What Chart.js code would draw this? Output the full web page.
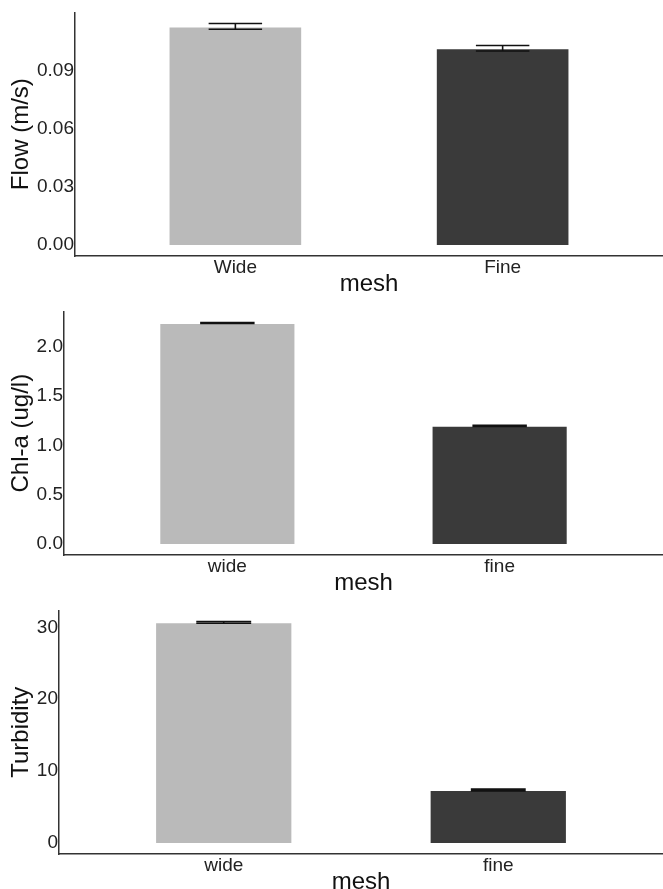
<!DOCTYPE html>
<html>
<head>
<meta charset="utf-8">
<script src="https://cdn.jsdelivr.net/npm/chart.js@4.4.1/dist/chart.umd.min.js"></script>
<style>
  html, body { margin: 0; padding: 0; background: #fff; overflow: hidden; }
  .panel { position: relative; width: 663px; height: 299px; }
  canvas { display: block; }
</style>
</head>
<body>
<div class="panel"><canvas id="flowChart" width="663" height="299"></canvas></div>
<div class="panel"><canvas id="chlChart" width="663" height="299"></canvas></div>
<div class="panel"><canvas id="turbChart" width="663" height="299"></canvas></div>
<script>
  /* Data
  -----------------------------------------------*/
  const meshPositions = [1, 2];

  const flowLabels = ['Wide', 'Fine'];
  const flowValues = [0.1129, 0.1016];
  const flowErrors = [0.0015, 0.0014];
  const flowTicks = [0, 0.03, 0.06, 0.09];
  const flowTickLabels = ['0.00', '0.03', '0.06', '0.09'];

  const chlLabels = ['wide', 'fine'];
  const chlValues = [2.24, 1.197];
  const chlErrors = [0.005, 0.005];
  const chlTicks = [0, 0.5, 1.0, 1.5, 2.0];
  const chlTickLabels = ['0.0', '0.5', '1.0', '1.5', '2.0'];

  const turbLabels = ['wide', 'fine'];
  const turbValues = [30.7, 7.37];
  const turbErrors = [0.12, 0.12];
  const turbTicks = [0, 10, 20, 30];
  const turbTickLabels = ['0', '10', '20', '30'];

  const barColors = ['#bababa', '#3a3a3a'];
  const fontFamily = '"Liberation Sans", Arial, sans-serif';

  /* Error bar plugin
  -----------------------------------------------*/
  const errorBars = {
    id: 'errorBars',
    afterDatasetsDraw(chart, args, opts) {
      const ctx = chart.ctx;
      const xs = chart.scales.x, ys = chart.scales.y;
      ctx.save();
      ctx.strokeStyle = '#111';
      ctx.lineWidth = 1.6;
      opts.errors.forEach(function(err, i) {
        const xv = meshPositions[i];
        const v = opts.values[i];
        const x0 = xs.getPixelForValue(xv - 0.1);
        const x1 = xs.getPixelForValue(xv + 0.1);
        const xc = xs.getPixelForValue(xv);
        const yHi = ys.getPixelForValue(v + err);
        const yLo = ys.getPixelForValue(v - err);
        ctx.beginPath();
        ctx.moveTo(x0, yHi); ctx.lineTo(x1, yHi);
        ctx.moveTo(x0, yLo); ctx.lineTo(x1, yLo);
        ctx.moveTo(xc, yHi); ctx.lineTo(xc, yLo);
        ctx.stroke();
      });
      ctx.restore();
    }
  };

  /* Build one panel
  -----------------------------------------------*/
  function makePanel(id, labels, values, errors, ticks, tickLabels, yTitle, axisLeft) {
    // ggplot style range: 5% expansion on both ends
    let hi = Math.max.apply(null, values.map(function(v, i) { return v + errors[i]; }));
    let lo = 0;
    let pad = (hi - lo) * 0.05;

    let ctx = document.getElementById(id).getContext('2d');
    return new Chart(ctx, {
      type: 'bar',
      data: {
        datasets: [{
          data: meshPositions.map(function(x, i) { return {x: x, y: values[i]}; }),
          backgroundColor: barColors,
          borderColor: 'rgba(255,255,255,0.55)',
          borderWidth: 1,
          categoryPercentage: 1,
          barPercentage: 0.5
        }]
      },
      options: {
        responsive: false,
        animation: false,
        layout: { padding: { top: 10, right: 0, left: 0, bottom: 0 } },
        plugins: {
          legend: { display: false },
          tooltip: { enabled: false },
          errorBars: { values: values, errors: errors }
        },
        scales: {
          x: {
            type: 'linear',
            offset: false,
            min: 0.4,
            max: 2.6,
            grid: { display: false, drawTicks: false, tickLength: 0 },
            border: { display: true, color: '#333', width: 1.5 },
            afterBuildTicks: function(scale) {
              scale.ticks = meshPositions.map(function(v) { return {value: v}; });
            },
            afterFit: function(scale) { scale.height = 43; },
            ticks: {
              color: '#222',
              padding: 0,
              maxRotation: 0,
              autoSkip: false,
              font: { family: fontFamily, size: 19 },
              callback: function(value, index) { return labels[index]; }
            },
            title: {
              display: true,
              text: 'mesh',
              color: '#111',
              padding: { top: 0, bottom: 0 },
              font: { family: fontFamily, size: 24 }
            }
          },
          y: {
            min: lo - pad,
            max: hi + pad,
            grid: { display: false, drawTicks: false, tickLength: 0 },
            border: { display: true, color: '#333', width: 1.5 },
            afterBuildTicks: function(scale) {
              scale.ticks = ticks.map(function(v) { return {value: v}; });
            },
            afterFit: function(scale) { scale.width = axisLeft; },
            ticks: {
              color: '#222',
              padding: 1,
              font: { family: fontFamily, size: 19 },
              callback: function(value, index) { return tickLabels[index]; }
            },
            title: {
              display: true,
              text: yTitle,
              color: '#111',
              padding: { top: 7, bottom: 0 },
              font: { family: fontFamily, size: 24 }
            }
          }
        }
      },
      plugins: [errorBars]
    });
  }

  makePanel('flowChart', flowLabels, flowValues, flowErrors, flowTicks, flowTickLabels, 'Flow (m/s)', 75);
  makePanel('chlChart', chlLabels, chlValues, chlErrors, chlTicks, chlTickLabels, 'Chl-a (ug/l)', 64);
  makePanel('turbChart', turbLabels, turbValues, turbErrors, turbTicks, turbTickLabels, 'Turbidity', 59);
</script>
</body>
</html>
